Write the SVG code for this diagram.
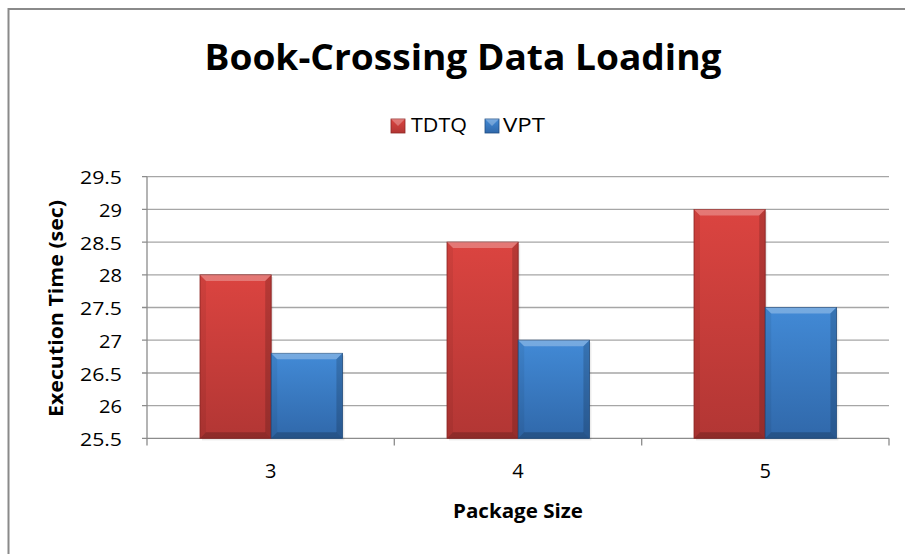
<svg xmlns="http://www.w3.org/2000/svg" width="905" height="554" viewBox="0 0 905 554">
<style>
.grid{stroke:#a6a6a6;stroke-width:1.3;fill:none}
.axis{stroke:#8c8c8c;stroke-width:1.3;fill:none}
.ylab{font-family:"Open Sans","Liberation Sans",sans-serif;font-size:18px;fill:#000;text-anchor:end}
.xlab{font-family:"Open Sans","Liberation Sans",sans-serif;font-size:20px;fill:#000;text-anchor:middle}
.bold{font-family:"Open Sans","Liberation Sans",sans-serif;font-weight:bold;fill:#000;text-anchor:middle}
.leg{font-family:"Open Sans","Liberation Sans",sans-serif;font-size:20px;fill:#000}
.red{fill:url(#gRed);stroke:#8e2624;stroke-width:0.8}
.blue{fill:url(#gBlue);stroke:#1f4d82;stroke-width:0.8}
.bt{fill:#fff;opacity:0.28}
.bl{fill:#000;opacity:0.06}
.br{fill:#000;opacity:0.16}
.bb{fill:#000;opacity:0.2}
.shadow{fill:#000;opacity:0.08}
</style>
<defs>
<linearGradient id="gRed" x1="0" y1="0" x2="0" y2="1">
<stop offset="0" stop-color="#db4440"/>
<stop offset="1" stop-color="#b23634"/>
</linearGradient>
<linearGradient id="gBlue" x1="0" y1="0" x2="0" y2="1">
<stop offset="0" stop-color="#428ad6"/>
<stop offset="1" stop-color="#3068aa"/>
</linearGradient>
</defs>
<rect x="0" y="0" width="905" height="554" fill="#fff"/>
<rect id="frame" x="8.5" y="9" width="910" height="560" fill="#fff" stroke="#8a8a8a" stroke-width="2"/>

<g id="title"><text class="bold" x="463" y="70" font-size="35" textLength="517" lengthAdjust="spacingAndGlyphs">Book-Crossing Data Loading</text></g>

<g id="legend">
<rect class="red" x="391" y="119" width="14" height="14"/>
<polygon class="bt" points="391,119 405,119 398,126"/>
<text class="leg" x="411" y="132.3" textLength="56" lengthAdjust="spacingAndGlyphs">TDTQ</text>
<rect class="blue" x="485" y="119" width="14" height="14"/>
<polygon class="bt" points="485,119 499,119 492,126"/>
<text class="leg" x="503" y="132.3" textLength="42" lengthAdjust="spacingAndGlyphs">VPT</text>
</g>

<g id="gridlines">
<line class="grid" x1="147" y1="176.7" x2="889" y2="176.7"/>
<line class="grid" x1="147" y1="209.4" x2="889" y2="209.4"/>
<line class="grid" x1="147" y1="242.1" x2="889" y2="242.1"/>
<line class="grid" x1="147" y1="274.9" x2="889" y2="274.9"/>
<line class="grid" x1="147" y1="307.5" x2="889" y2="307.5"/>
<line class="grid" x1="147" y1="340.2" x2="889" y2="340.2"/>
<line class="grid" x1="147" y1="373" x2="889" y2="373"/>
<line class="grid" x1="147" y1="405.6" x2="889" y2="405.6"/>
</g>

<g id="axes">
<line class="axis" x1="147" y1="176.7" x2="147" y2="438.3"/>
<line class="axis" x1="147" y1="438.3" x2="889" y2="438.3"/>
<path class="axis" d="M142,176.7H147M142,209.4H147M142,242.1H147M142,274.9H147M142,307.5H147M142,340.2H147M142,373H147M142,405.6H147M142,438.3H147"/>
<path class="axis" d="M147,438.3V445.5M394.3,438.3V445.5M641.7,438.3V445.5M889,438.3V445.5"/>
</g>

<g id="ylabels">
<text class="ylab" x="122" y="184.2" textLength="42" lengthAdjust="spacingAndGlyphs">29.5</text>
<text class="ylab" x="122" y="216.9" textLength="23" lengthAdjust="spacingAndGlyphs">29</text>
<text class="ylab" x="122" y="249.6" textLength="42" lengthAdjust="spacingAndGlyphs">28.5</text>
<text class="ylab" x="122" y="282.4" textLength="23" lengthAdjust="spacingAndGlyphs">28</text>
<text class="ylab" x="122" y="315" textLength="42" lengthAdjust="spacingAndGlyphs">27.5</text>
<text class="ylab" x="122" y="347.7" textLength="23" lengthAdjust="spacingAndGlyphs">27</text>
<text class="ylab" x="122" y="380.5" textLength="42" lengthAdjust="spacingAndGlyphs">26.5</text>
<text class="ylab" x="122" y="413.1" textLength="23" lengthAdjust="spacingAndGlyphs">26</text>
<text class="ylab" x="122" y="445.8" textLength="42" lengthAdjust="spacingAndGlyphs">25.5</text>
</g>

<g id="xlabels">
<text class="xlab" x="270.7" y="478">3</text>
<text class="xlab" x="518" y="478">4</text>
<text class="xlab" x="765.3" y="478">5</text>
</g>

<g id="axis-titles">
<text class="bold" x="518" y="518.3" font-size="20" textLength="130" lengthAdjust="spacingAndGlyphs">Package Size</text>
<text class="bold" transform="translate(63,308.5) rotate(-90)" x="0" y="0" font-size="20" textLength="217" lengthAdjust="spacingAndGlyphs">Execution Time (sec)</text>
</g>

<g id="bars">
<g id="bar-3-TDTQ">
<rect class="shadow" x="202" y="277" width="71.2" height="163.4"/>
<rect class="red" x="200" y="274.9" width="71.2" height="163.4"/>
<polygon class="bt" points="200,274.9 271.2,274.9 265.2,280.9 206,280.9"/>
<polygon class="bl" points="200,274.9 206,280.9 206,432.3 200,438.3"/>
<polygon class="br" points="271.2,274.9 271.2,438.3 265.2,432.3 265.2,280.9"/>
<polygon class="bb" points="200,438.3 206,432.3 265.2,432.3 271.2,438.3"/>
</g>
<g id="bar-3-VPT">
<rect class="shadow" x="273.2" y="355.4" width="71.2" height="85"/>
<rect class="blue" x="271.2" y="353.3" width="71.2" height="85"/>
<polygon class="bt" points="271.2,353.3 342.4,353.3 336.4,359.3 277.2,359.3"/>
<polygon class="bl" points="271.2,353.3 277.2,359.3 277.2,432.3 271.2,438.3"/>
<polygon class="br" points="342.4,353.3 342.4,438.3 336.4,432.3 336.4,359.3"/>
<polygon class="bb" points="271.2,438.3 277.2,432.3 336.4,432.3 342.4,438.3"/>
</g>
<g id="bar-4-TDTQ">
<rect class="shadow" x="449" y="244.2" width="71.2" height="196.2"/>
<rect class="red" x="447" y="242.1" width="71.2" height="196.2"/>
<polygon class="bt" points="447,242.1 518.2,242.1 512.2,248.1 453,248.1"/>
<polygon class="bl" points="447,242.1 453,248.1 453,432.3 447,438.3"/>
<polygon class="br" points="518.2,242.1 518.2,438.3 512.2,432.3 512.2,248.1"/>
<polygon class="bb" points="447,438.3 453,432.3 512.2,432.3 518.2,438.3"/>
</g>
<g id="bar-4-VPT">
<rect class="shadow" x="520.2" y="342.3" width="71.2" height="98.1"/>
<rect class="blue" x="518.2" y="340.2" width="71.2" height="98.1"/>
<polygon class="bt" points="518.2,340.2 589.4,340.2 583.4,346.2 524.2,346.2"/>
<polygon class="bl" points="518.2,340.2 524.2,346.2 524.2,432.3 518.2,438.3"/>
<polygon class="br" points="589.4,340.2 589.4,438.3 583.4,432.3 583.4,346.2"/>
<polygon class="bb" points="518.2,438.3 524.2,432.3 583.4,432.3 589.4,438.3"/>
</g>
<g id="bar-5-TDTQ">
<rect class="shadow" x="696" y="211.5" width="71.2" height="228.9"/>
<rect class="red" x="694" y="209.4" width="71.2" height="228.9"/>
<polygon class="bt" points="694,209.4 765.2,209.4 759.2,215.4 700,215.4"/>
<polygon class="bl" points="694,209.4 700,215.4 700,432.3 694,438.3"/>
<polygon class="br" points="765.2,209.4 765.2,438.3 759.2,432.3 759.2,215.4"/>
<polygon class="bb" points="694,438.3 700,432.3 759.2,432.3 765.2,438.3"/>
</g>
<g id="bar-5-VPT">
<rect class="shadow" x="767.2" y="309.6" width="71.2" height="130.8"/>
<rect class="blue" x="765.2" y="307.5" width="71.2" height="130.8"/>
<polygon class="bt" points="765.2,307.5 836.4,307.5 830.4,313.5 771.2,313.5"/>
<polygon class="bl" points="765.2,307.5 771.2,313.5 771.2,432.3 765.2,438.3"/>
<polygon class="br" points="836.4,307.5 836.4,438.3 830.4,432.3 830.4,313.5"/>
<polygon class="bb" points="765.2,438.3 771.2,432.3 830.4,432.3 836.4,438.3"/>
</g>
</g>
</svg>
